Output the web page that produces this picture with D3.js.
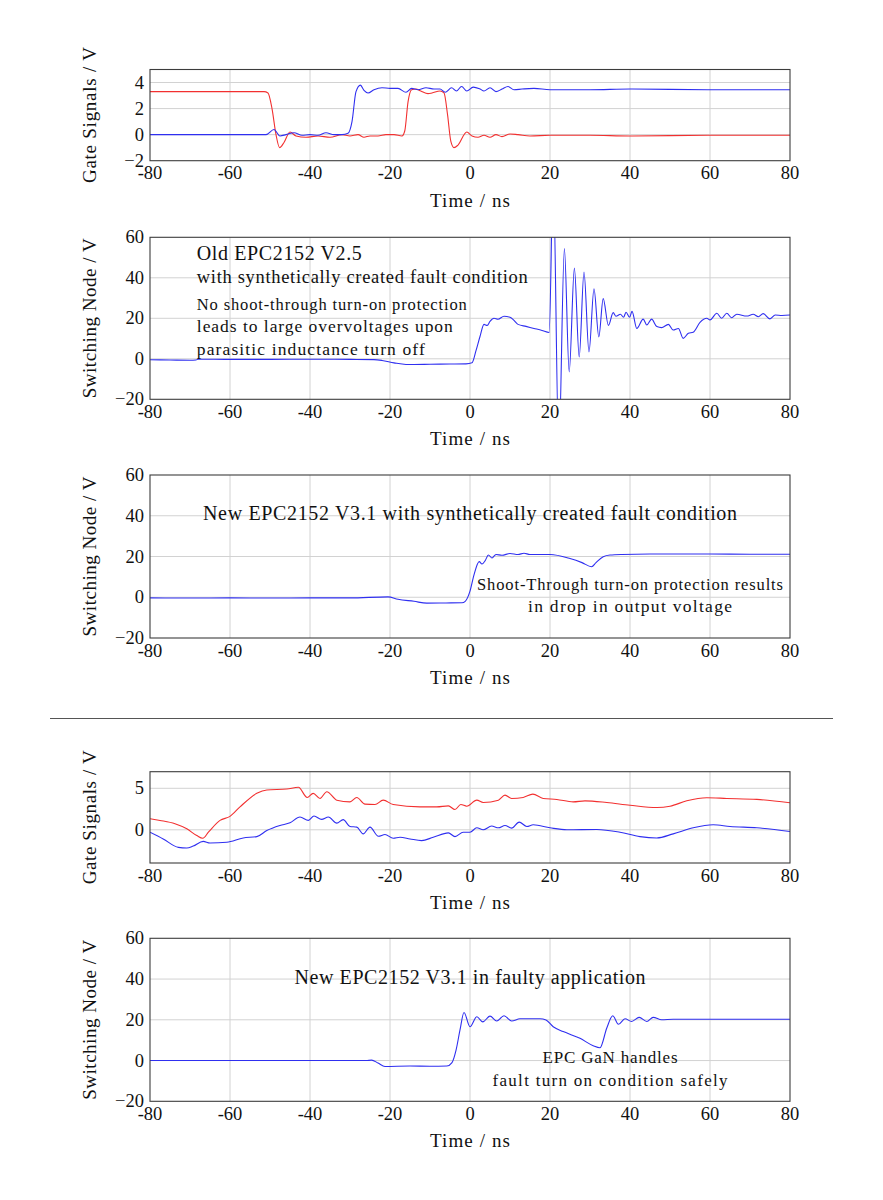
<!DOCTYPE html>
<html><head><meta charset="utf-8">
<script src="https://cdn.jsdelivr.net/npm/d3@7"></script>
<style>
body{margin:0;background:#fff}
svg{display:block}
text{font-family:"Liberation Serif","Times New Roman",serif;fill:#111}
</style>
</head><body>
<svg id="chart" width="883" height="1200"></svg>
<script>
// ---------------- DATA ----------------
const xTicks = [-80, -60, -40, -20, 0, 20, 40, 60, 80];
const xTickLabels = ["-80", "-60", "-40", "-20", "0", "20", "40", "60", "80"];
const gateTicksTop = [-2, 0, 2, 4];
const gateTicksBottom = [0, 5];
const nodeTicks = [-20, 0, 20, 40, 60];

// Panel 1: gate signals (old device)
const p1RedT = [-80,-60,-51.5,-50.5,-49.5,-48.5,-47.6,-46.5,-45,-43.5,-41,-38,-35,-32,-30,-28,-26.5,-25,-23,-21,-19,-17,-16.3,-15.5,-14.6,-13.5,-12.3,-10.5,-9.5,-7.5,-6.5,-5.6,-4.8,-4,-3,-0.8,0.5,2,3.5,5,6.5,8,10,12,15,20,30,40,60,80];
const p1RedV = [3.3,3.3,3.3,3.2,2.0,0.0,-1.0,-0.6,0.2,-0.1,-0.2,-0.1,-0.2,0.0,-0.1,0.0,-0.2,-0.1,-0.1,0.0,0.0,-0.1,0.3,2.5,3.45,3.5,3.35,3.15,3.2,3.35,3.2,1.5,-0.5,-1.0,-0.8,0.2,-0.1,-0.2,-0.05,-0.2,0.0,-0.15,0.05,0.0,-0.1,-0.05,-0.05,-0.1,-0.05,-0.05];
const p1BlueT = [-80,-60,-51,-49,-47.5,-46,-44,-42,-40,-38,-36,-34,-32,-30.5,-29.5,-28.5,-27.4,-26.5,-25.5,-24,-22,-20,-18,-16,-14.6,-13,-11,-9,-7.5,-6.2,-4.6,-3.4,-2.1,-0.8,0.8,2.5,3.5,5,6.5,8,9.5,11,13,16,20,30,40,60,80];
const p1BlueV = [0,0,0.0,0.4,-0.1,0.0,0.15,-0.05,0.0,-0.05,0.15,0.0,0.0,0.1,1.0,3.3,3.8,3.4,3.2,3.45,3.6,3.55,3.55,3.25,3.55,3.45,3.6,3.5,3.5,3.25,3.6,3.35,3.7,3.35,3.65,3.5,3.35,3.6,3.3,3.5,3.7,3.45,3.5,3.55,3.45,3.45,3.5,3.45,3.45];

// Panel 2: switching node (old EPC2152 V2.5)
const p2T = [-80,-75,-70,-68.5,-68,-60,-50,-40,-30,-24,-22,-19,-16,-14,-10,-5,-1,0.5,1.5,2.5,3.5,4.3,5,6,7,8.5,10,11,12,14,16,18,19.8,20.8,22.2,23.6,24.8,26.1,27.3,28.5,29.75,31,32.2,33.3,34.6,35.8,36.5,37.6,38.4,39,39.9,40.5,41.7,43.3,44.2,45.4,46.7,47.9,49.6,50.8,52.1,53.3,54.6,55.8,57.5,59.2,60,61.7,62.9,64.2,65.4,66.7,69.2,70.8,72.1,73.3,75,76.3,78,80];
const p2V = [-0.5,-0.6,-0.7,-0.6,-0.2,-0.3,-0.3,-0.2,-0.3,-0.4,-0.8,-2.0,-2.8,-2.8,-2.7,-2.6,-2.5,-2.0,4,11,17,16.5,18.5,20,19.5,21,20.5,19,17,16,15,14,13,90,-45,54.4,-6.5,44.8,0.9,42.9,3.4,34.6,10.8,29.7,16.5,22.8,21,22,20.5,23,20.5,23.4,15,19.6,16.7,19.6,15.9,15.4,17,14.2,15,10.1,12.6,13.1,18,20,19.2,22.5,20,22.5,20.3,22,21.1,22,20.8,22.3,19.7,21.6,21.4,21.6];

// Panel 3: switching node (new EPC2152 V3.1, synthetic fault)
const p3T = [-80,-70,-60,-50,-40,-30,-20.5,-18,-14,-10.8,-6,-2,-1.2,0,1,2.3,3,3.8,4.6,5.5,6.5,8,10,12,13.5,15,20,25,28,30.4,31.5,33.3,35,38,45,50,60,70,80];
const p3V = [-0.3,-0.4,-0.3,-0.4,-0.3,-0.3,0.2,-1.0,-2.0,-2.9,-2.8,-2.7,-2.0,3,11,17.5,16.3,18,20.7,19.3,21,20.6,21.5,21,21.6,21,21,19,17,15,17,19.9,20.7,21,21.2,21.2,21.2,21.1,21.1];

// Panel 4: gate signals (faulty application)
const p4RedT = [-80,-77.5,-73.75,-70.8,-68.3,-66.8,-65.4,-62.5,-60,-57.5,-53.3,-50.8,-45.8,-42.9,-40.7,-39.2,-37.5,-35.8,-33.3,-30,-28.3,-26.25,-23.75,-21.7,-19.2,-12.5,-8.3,-5.4,-3.75,-2.3,-0.8,1.7,3.3,7.1,8.75,10.4,13.3,15.7,18.3,21.7,25.8,28.75,34.2,40,46.7,50,54.2,59.2,64.2,71.7,80];
const p4RedV = [1.34,1.13,0.73,0.12,-0.7,-1.02,-0.29,1.13,1.62,2.76,4.39,4.8,4.91,5.12,3.9,4.39,3.78,4.59,3.57,3.37,3.9,3.09,3.05,3.57,3.05,2.76,2.76,2.88,2.44,3.05,2.84,3.57,3.29,3.57,4.18,3.78,3.9,4.3,3.78,3.66,3.37,3.49,3.29,2.96,2.68,2.84,3.49,3.86,3.78,3.66,3.25];
const p4BlueT = [-80,-76.7,-72.9,-70.8,-69.2,-66.7,-65,-60.8,-56.7,-53.3,-50.8,-47.5,-45,-42.5,-40.4,-39,-37.1,-35.4,-33.3,-31.7,-30,-28.3,-26.7,-25,-22.9,-21.25,-19.2,-17.5,-15,-12.1,-9.2,-5.4,-3.75,-1.7,0,1.7,3.3,5.4,7.1,8.75,10.4,12.3,14.2,15.8,20,24.2,31.7,37.5,42.5,46.7,50.8,55.8,60.8,65,71.7,80];
const p4BlueV = [-0.29,-1.1,-2.12,-2.2,-1.96,-1.39,-1.59,-1.5,-0.98,-0.82,-0.09,0.52,0.85,1.54,1.13,1.66,1.26,1.54,0.8,1.22,0.4,0.32,-0.49,0.32,-0.78,-0.57,-1.02,-0.9,-1.1,-1.3,-0.9,-0.37,-0.82,-0.29,-0.29,0.24,0.0,0.45,0.24,0.52,0.2,0.93,0.4,0.6,0.24,0.0,0.04,-0.29,-0.82,-0.98,-0.49,0.24,0.6,0.4,0.24,-0.21];

// Panel 5: switching node (new EPC2152 V3.1, faulty application)
const p5T = [-80,-60,-40,-26,-24.6,-23,-21.25,-15,-10,-5.8,-4.5,-3.5,-2.5,-1.5,0,1.7,3.2,5,6.7,8.5,10.4,12.5,17.5,19,20.8,23.3,27.5,30.8,32.5,34.2,35.7,37.1,38.75,40.4,42.3,44.2,45.8,47.9,50.8,60,70,80];
const p5V = [0,0,0,0,0.2,-1.2,-2.9,-2.7,-2.8,-2.7,-1.0,5,15,23.6,16.6,21.5,19,21.8,19.4,22,19.4,20.5,20.5,19.9,16.6,14.2,10.9,7.3,6.3,16,22,17.8,20.5,19.2,21.2,19.2,21.2,20,20.3,20.3,20.3,20.3];

// ---------------- LAYOUT ----------------
const svg = d3.select("#chart");
const X0 = 150, X1 = 790;
const x = d3.scaleLinear().domain([-80, 80]).range([X0, X1]);

const panels = [
  {top: 69.5, bottom: 160.7, dom: [-2, 5], ticks: gateTicksTop, ylabel: "Gate Signals / V", ylen: 136,
   series: [{t: p1RedT, v: p1RedV, c: "#f23030"}, {t: p1BlueT, v: p1BlueV, c: "#2f2ff0"}]},
  {top: 237.3, bottom: 399.3, dom: [-20, 60], ticks: nodeTicks, ylabel: "Switching Node / V", ylen: 160,
   series: [{t: p2T, v: p2V, c: "#2f2ff0"}]},
  {top: 475, bottom: 638, dom: [-20, 60], ticks: nodeTicks, ylabel: "Switching Node / V", ylen: 160,
   series: [{t: p3T, v: p3V, c: "#2f2ff0"}]},
  {top: 771.7, bottom: 863, dom: [-4, 7], ticks: gateTicksBottom, ylabel: "Gate Signals / V", ylen: 134,
   series: [{t: p4RedT, v: p4RedV, c: "#f23030"}, {t: p4BlueT, v: p4BlueV, c: "#2f2ff0"}]},
  {top: 938.3, bottom: 1101.3, dom: [-20, 60], ticks: nodeTicks, ylabel: "Switching Node / V", ylen: 160,
   series: [{t: p5T, v: p5V, c: "#2f2ff0"}]}
];

panels.forEach((p, i) => {
  const y = d3.scaleLinear().domain(p.dom).range([p.bottom, p.top]);
  p.y = y;
  const g = svg.append("g");
  const clipId = "clip" + i;
  svg.append("clipPath").attr("id", clipId).append("rect")
    .attr("x", X0).attr("y", p.top).attr("width", X1 - X0).attr("height", p.bottom - p.top);

  // grid
  g.append("g").selectAll("line").data(xTicks.slice(1, -1)).join("line")
    .attr("x1", d => x(d)).attr("x2", d => x(d)).attr("y1", p.top).attr("y2", p.bottom)
    .attr("stroke", "#d2d2d2").attr("stroke-width", 1);
  g.append("g").selectAll("line").data(p.ticks.filter(d => d > p.dom[0] && d < p.dom[1])).join("line")
    .attr("x1", X0).attr("x2", X1).attr("y1", d => y(d)).attr("y2", d => y(d))
    .attr("stroke", "#d2d2d2").attr("stroke-width", 1);

  // lines
  const line = d3.line().x(d => x(d[0])).y(d => y(d[1])).curve(d3.curveMonotoneX);
  const lg = g.append("g").attr("clip-path", `url(#${clipId})`);
  p.series.forEach(s => {
    lg.append("path").datum(d3.zip(s.t, s.v)).attr("d", line)
      .attr("fill", "none").attr("stroke", s.c).attr("stroke-width", 1.1)
      .attr("stroke-linejoin", "round");
  });

  // frame
  g.append("rect").attr("x", X0).attr("y", p.top).attr("width", X1 - X0).attr("height", p.bottom - p.top)
    .attr("fill", "none").attr("stroke", "#3c3c3c").attr("stroke-width", 1.1);

  // x tick labels
  g.append("g").selectAll("text").data(xTicks).join("text")
    .attr("x", d => x(d)).attr("y", p.bottom + 18.5)
    .attr("text-anchor", "middle").attr("font-size", 18.5)
    .text((d, k) => xTickLabels[k]);
  // y tick labels
  g.append("g").selectAll("text").data(p.ticks).join("text")
    .attr("x", X0 - 6).attr("y", d => y(d)).attr("dy", "0.33em")
    .attr("text-anchor", "end").attr("font-size", 18.5)
    .text(d => d < 0 ? "\u2212" + Math.abs(d) : String(d));

  // axis labels
  g.append("text").attr("x", (X0 + X1) / 2).attr("y", p.bottom + 46)
    .attr("text-anchor", "middle").attr("font-size", 19)
    .attr("textLength", 80).attr("lengthAdjust", "spacing")
    .text("Time / ns");
  g.append("text")
    .attr("transform", `translate(96,${(p.top + p.bottom) / 2}) rotate(-90)`)
    .attr("text-anchor", "middle").attr("font-size", 19)
    .attr("textLength", p.ylen).attr("lengthAdjust", "spacing")
    .text(p.ylabel);
});

// separator
svg.append("line").attr("x1", 50).attr("x2", 833).attr("y1", 718.5).attr("y2", 718.5)
  .attr("stroke", "#555").attr("stroke-width", 1.1);

// annotations (positions in data coordinates)
function note(pi, t, v, txt, size, len, anchor) {
  const p = panels[pi];
  svg.append("text").attr("x", x(t)).attr("y", p.y(v))
    .attr("text-anchor", anchor).attr("font-size", size)
    .attr("textLength", len).attr("lengthAdjust", "spacing")
    .text(txt);
}
note(1, -68.3, 48.6, "Old EPC2152 V2.5", 20, 165, "start");
note(1, -68.3, 37.2, "with synthetically created fault condition", 18.5, 331, "start");
note(1, -68.3, 24.1, "No shoot-through turn-on protection", 16.5, 270, "start");
note(1, -68.3, 13.4, "leads to large overvoltages upon", 17.5, 256, "start");
note(1, -68.3, 1.9, "parasitic inductance turn off", 17.5, 228, "start");

note(2, 0, 38, "New EPC2152 V3.1 with synthetically created fault condition", 20, 534, "middle");
note(2, 40, 3.5, "Shoot-Through turn-on protection results", 16.5, 306, "middle");
note(2, 40, -7.2, "in drop in output voltage", 17.5, 204, "middle");

note(4, 0, 37.8, "New EPC2152 V3.1 in faulty application", 20, 351, "middle");
note(4, 35, -1.2, "EPC GaN handles", 17, 135, "middle");
note(4, 35, -12.5, "fault turn on condition safely", 17, 235, "middle");
</script>
</body></html>
